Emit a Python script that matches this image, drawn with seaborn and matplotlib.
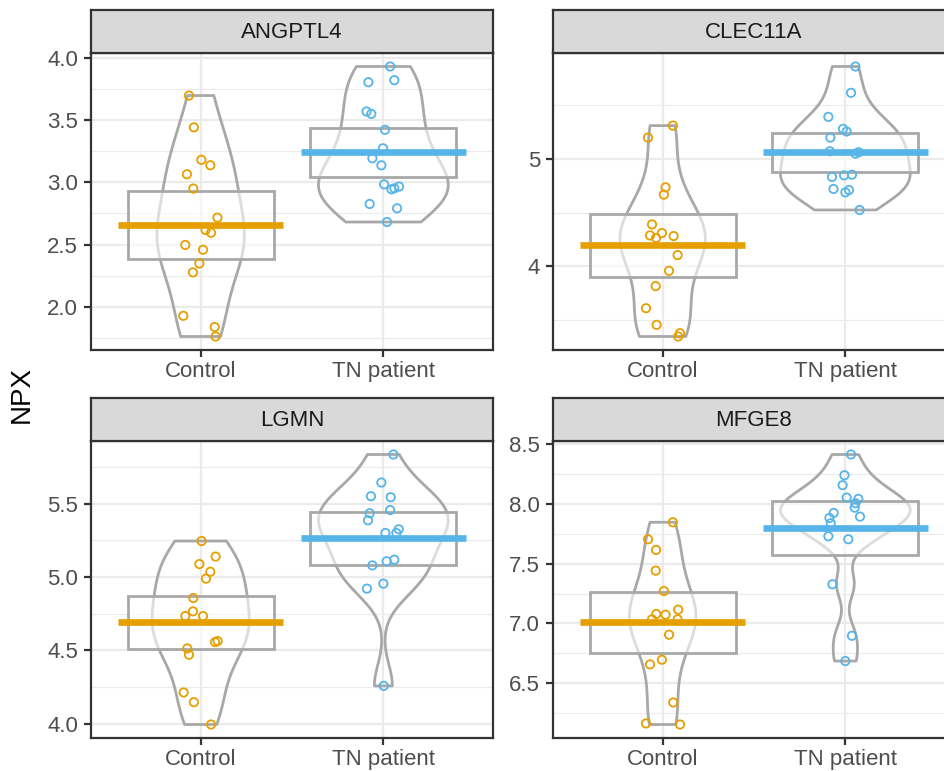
import numpy as np
import pandas as pd
import seaborn as sns
import matplotlib.pyplot as plt
from matplotlib.patches import Rectangle
from matplotlib.ticker import MultipleLocator, AutoMinorLocator, FormatStrFormatter

genes = ['ANGPTL4', 'CLEC11A', 'LGMN', 'MFGE8']
groups = ['Control', 'TN patient']
colors = ['#E69F00', '#56B4E9']

# NPX values, plus the horizontal jitter of each point
angptl4_ctrl = [3.695, 3.44, 3.18, 3.136, 3.064, 2.949, 2.716, 2.617, 2.595, 2.497, 2.459, 2.349, 2.277, 1.929, 1.839, 1.763]
angptl4_ctrl_jit = [-0.064, -0.037, 0.004, 0.053, -0.075, -0.040, 0.092, 0.027, 0.057, -0.084, 0.013, -0.007, -0.042, -0.095, 0.077, 0.082]
angptl4_tn = [3.928, 3.802, 3.818, 3.567, 3.548, 3.420, 3.272, 3.192, 3.136, 2.983, 2.943, 2.951, 2.965, 2.826, 2.791, 2.681]
angptl4_tn_jit = [0.037, -0.082, 0.060, -0.092, -0.066, 0.009, -0.002, -0.060, -0.011, 0.004, 0.044, 0.060, 0.086, -0.075, 0.075, 0.020]

clec11a_ctrl = [5.306, 5.195, 4.734, 4.666, 4.390, 4.288, 4.310, 4.264, 4.282, 4.106, 3.960, 3.818, 3.613, 3.459, 3.382, 3.351]
clec11a_ctrl_jit = [0.056, -0.080, 0.016, 0.007, -0.058, -0.069, -0.004, -0.036, 0.060, 0.082, 0.035, -0.038, -0.091, -0.033, 0.095, 0.085]
clec11a_tn = [5.854, 5.610, 5.387, 5.276, 5.251, 5.195, 5.068, 5.046, 5.059, 4.830, 4.845, 4.851, 4.719, 4.687, 4.709, 4.524]
clec11a_tn_jit = [0.055, 0.031, -0.093, -0.013, 0.007, -0.082, -0.085, 0.055, 0.073, -0.073, -0.007, 0.036, -0.065, 0.000, 0.020, 0.078]

lgmn_ctrl = [5.245, 5.139, 5.088, 5.036, 4.989, 4.857, 4.766, 4.734, 4.734, 4.557, 4.564, 4.514, 4.471, 4.214, 4.148, 3.996]
lgmn_ctrl_jit = [0.005, 0.082, -0.007, 0.053, 0.029, -0.040, -0.042, -0.084, 0.013, 0.079, 0.093, -0.073, -0.064, -0.093, -0.037, 0.057]
lgmn_tn = [5.834, 5.643, 5.550, 5.543, 5.434, 5.456, 5.386, 5.325, 5.300, 5.300, 5.079, 5.107, 5.118, 4.921, 4.955, 4.259]
lgmn_tn_jit = [0.055, -0.011, -0.068, 0.040, -0.075, 0.037, -0.084, 0.084, 0.011, 0.071, -0.060, 0.018, 0.060, -0.090, 0.000, 0.002]

mfge8_ctrl = [7.845, 7.703, 7.614, 7.441, 7.271, 7.115, 7.079, 7.073, 7.034, 7.034, 6.906, 6.697, 6.658, 6.340, 6.165, 6.156]
mfge8_ctrl_jit = [0.056, -0.080, -0.036, -0.038, 0.007, 0.085, -0.035, 0.016, -0.058, 0.082, 0.035, -0.004, -0.069, 0.058, -0.091, 0.095]
mfge8_tn = [8.411, 8.238, 8.155, 8.051, 8.040, 8.004, 7.967, 7.892, 7.923, 7.881, 7.837, 7.728, 7.703, 7.327, 6.897, 6.686]
mfge8_tn_jit = [0.031, -0.005, -0.015, 0.007, 0.071, 0.055, 0.051, 0.080, -0.064, -0.087, -0.080, -0.093, 0.016, -0.071, 0.036, 0.000]

tick_step = {'ANGPTL4': 0.5, 'CLEC11A': 1.0, 'LGMN': 0.5, 'MFGE8': 0.5}

series = {
    'ANGPTL4': [(angptl4_ctrl, angptl4_ctrl_jit), (angptl4_tn, angptl4_tn_jit)],
    'CLEC11A': [(clec11a_ctrl, clec11a_ctrl_jit), (clec11a_tn, clec11a_tn_jit)],
    'LGMN': [(lgmn_ctrl, lgmn_ctrl_jit), (lgmn_tn, lgmn_tn_jit)],
    'MFGE8': [(mfge8_ctrl, mfge8_ctrl_jit), (mfge8_tn, mfge8_tn_jit)],
}
rows = []
for gene in genes:
    for code, (vals, jit) in enumerate(series[gene]):
        for v, j in zip(vals, jit):
            rows.append((gene, groups[code], code, v, j))
df = pd.DataFrame(rows, columns=['gene', 'group', 'code', 'npx', 'jitter'])


def nrd0(kde):
    # R's default bandwidth (as ggplot's violin uses)
    x = kde.dataset.ravel()
    sd = np.std(x, ddof=1)
    iqr = np.subtract(*np.percentile(x, [75, 25]))
    h = 0.9 * min(sd, iqr / 1.34) * len(x) ** -0.2
    return h / sd


sns.set_style('white')
plt.rcParams['font.family'] = ['Liberation Sans', 'DejaVu Sans']

W, H = 945, 771
fig = plt.figure(figsize=(W / 100, H / 100), dpi=100)
pw, ph = 402, 297
lefts = [91, 553]
tops = [53, 441]
strip_h = 43
gray = '#a8a8a8'
dark = '#333333'

for i, gene in enumerate(genes):
    l = lefts[i % 2]
    t = tops[i // 2]
    ax = fig.add_axes([l / W, 1 - (t + ph) / H, pw / W, ph / H])
    sub = df[df['gene'] == gene]

    sns.violinplot(data=sub, x='code', y='npx', native_scale=True, orient='x',
                   cut=0, bw_method=nrd0, density_norm='area', width=0.71,
                   fill=False, color=gray, linewidth=2.0, inner=None, ax=ax)

    for code, grp in enumerate(groups):
        g = sub[sub['group'] == grp]
        y = g['npx'].to_numpy()
        m = y.mean()
        ci = 1.96 * y.std(ddof=1) / np.sqrt(len(y))
        ax.add_patch(Rectangle((code - 0.4, m - ci), 0.8, 2 * ci,
                               facecolor=(1, 1, 1, 0.6), edgecolor=gray,
                               linewidth=2.0, zorder=2))
        ax.plot([code - 0.45, code + 0.45], [m, m], color=colors[code],
                lw=4.8, solid_capstyle='butt', zorder=3)
        sns.scatterplot(x=g['code'] + g['jitter'], y=y, color=colors[code],
                        facecolor='none', edgecolor=colors[code], s=36,
                        linewidth=1.3, legend=False, zorder=4, ax=ax)

    vals = sub['npx']
    r = vals.max() - vals.min()
    ax.set_ylim(vals.min() - 0.05 * r, vals.max() + 0.05 * r)
    ax.set_xlim(-0.6, 1.6)
    ax.set_xticks([0, 1])
    ax.set_xticklabels(groups)
    ax.yaxis.set_major_locator(MultipleLocator(tick_step[gene]))
    ax.yaxis.set_minor_locator(AutoMinorLocator(2))
    ax.yaxis.set_major_formatter(FormatStrFormatter('%g' if tick_step[gene] >= 1 else '%.1f'))
    ax.set_xlabel('')
    ax.set_ylabel('')
    ax.set_axisbelow(True)
    ax.grid(which='major', color='#ebebeb', lw=1.6)
    ax.grid(which='minor', axis='y', color='#ebebeb', lw=0.8)
    for sp in ax.spines.values():
        sp.set_color(dark)
        sp.set_linewidth(1.6)
    ax.tick_params(which='major', length=5.3, width=1.6, color=dark,
                   labelsize=16, labelcolor='#4d4d4d',
                   left=True, bottom=True)
    ax.tick_params(axis='x', pad=2.5)
    ax.tick_params(axis='y', pad=4)
    ax.tick_params(which='minor', length=0)

    sax = fig.add_axes([l / W, 1 - t / H, pw / W, strip_h / H])
    sax.set_facecolor('#d9d9d9')
    sax.set_xticks([])
    sax.set_yticks([])
    for sp in sax.spines.values():
        sp.set_color(dark)
        sp.set_linewidth(1.6)
    sax.text(0.5, 0.47, gene, ha='center', va='center', fontsize=16,
             color='#1a1a1a', transform=sax.transAxes)

fig.text(22 / W, 1 - 395 / H, 'NPX', rotation=90, ha='center', va='center',
         fontsize=20, color='black')

fig.savefig('out.png', dpi=100)
